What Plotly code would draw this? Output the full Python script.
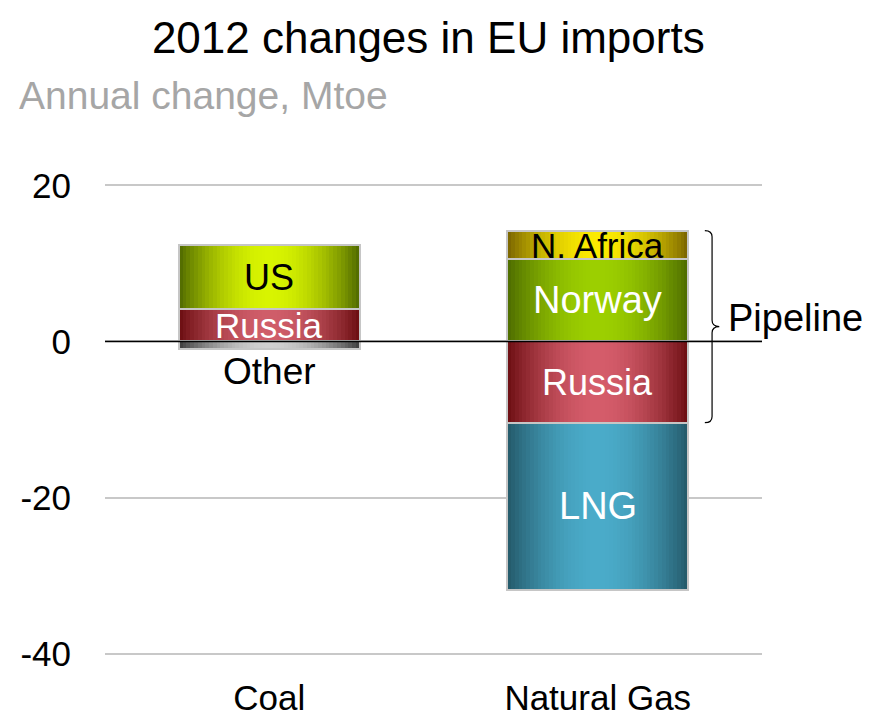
import numpy as np
import plotly.graph_objects as go

# ---- data (Mtoe, annual change 2012) ----
categories = ["Coal", "Natural Gas"]
segment_names = ["Russia", "US", "Other", "Norway", "N. Africa", "Russia", "LNG"]
segment_category = ["Coal", "Coal", "Coal", "Natural Gas", "Natural Gas", "Natural Gas", "Natural Gas"]
segment_values = [4.1, 8.3, -1.0, 10.5, 3.7, -10.4, -21.4]
y_ticks = [-40, -20, 0, 20]
y_tick_text = ["-40", "-20", "0", "20"]

# ---- styling ----
edge_colors = ["#6a0c10", "#4e6800", "#3c3c3c", "#4c6a00", "#786200", "#6a0c10", "#235868"]
center_colors = ["#cf5d69", "#d8f400", "#d0d0d0", "#9ccf00", "#fbea00", "#d45c6a", "#4aabc9"]
label_colors = ["white", "black", "black", "white", "black", "white", "white"]
label_sizes = [35, 36, 37, 38, 35, 36, 38]
BAR_W = 0.55
N_STRIPS = 48
FONT = "Liberation Sans, Arial, sans-serif"


def hex_rgb(h):
    h = h.lstrip("#")
    return np.array([int(h[i:i + 2], 16) for i in (0, 2, 4)], dtype=float)


def mix(c_edge, c_mid, f):
    c = hex_rgb(c_edge) * (1 - f) + hex_rgb(c_mid) * f
    return "rgb(%d,%d,%d)" % tuple(np.round(c).astype(int))


# stacked bases: positives build upward, negatives downward, per category
bases = []
pos_top = {c: 0.0 for c in categories}
neg_top = {c: 0.0 for c in categories}
for cat, v in zip(segment_category, segment_values):
    if v >= 0:
        bases.append(pos_top[cat])
        pos_top[cat] += v
    else:
        bases.append(neg_top[cat])
        neg_top[cat] += v

fig = go.Figure()

# cylinder-style shading: each segment is built from thin vertical strips
strip_w = BAR_W / N_STRIPS
for i in range(N_STRIPS):
    t = (i + 0.5) / N_STRIPS * 2 - 1
    f = np.cos(t * np.pi / 2) ** 0.9
    fig.add_trace(go.Bar(
        x=segment_category,
        y=segment_values,
        base=bases,
        width=[strip_w * 1.15] * len(segment_values),
        offset=[-BAR_W / 2 + i * strip_w] * len(segment_values),
        marker=dict(color=[mix(e, c, f) for e, c in zip(edge_colors, center_colors)],
                    line=dict(width=0)),
        showlegend=False,
        hoverinfo="skip",
    ))

# light grey outline around every segment
fig.add_trace(go.Bar(
    x=segment_category,
    y=segment_values,
    base=bases,
    width=[BAR_W] * len(segment_values),
    marker=dict(color="rgba(0,0,0,0)", line=dict(color="#c6c6c6", width=2)),
    showlegend=False,
    hoverinfo="skip",
))

# segment labels
for name, cat, v, b, col, sz in zip(segment_names, segment_category, segment_values,
                                    bases, label_colors, label_sizes):
    if name == "Other":
        fig.add_annotation(x=cat, y=b + v, text=name, showarrow=False, yanchor="top",
                           yshift=0, font=dict(family=FONT, size=sz, color=col))
    else:
        fig.add_annotation(x=cat, y=b + v / 2, text=name, showarrow=False,
                           font=dict(family=FONT, size=sz, color=col))

# brace grouping the pipeline supplies
gas_top = pos_top["Natural Gas"]
pipe_bottom = [b + v for n, c, v, b in zip(segment_names, segment_category, segment_values, bases)
               if c == "Natural Gas" and n == "Russia"][0]
mid = (gas_top + pipe_bottom) / 2
x0, x1, x2 = 0.913, 0.924, 0.935
dy = 0.8
path = (f"M {x0},{gas_top} Q {x1},{gas_top} {x1},{gas_top - dy} "
        f"L {x1},{mid + dy} Q {x1},{mid} {x2},{mid} "
        f"Q {x1},{mid} {x1},{mid - dy} "
        f"L {x1},{pipe_bottom + dy} Q {x1},{pipe_bottom} {x0},{pipe_bottom}")
fig.add_shape(type="path", path=path, xref="paper", yref="y",
              line=dict(color="black", width=1.2))
fig.add_annotation(x=x2 + 0.01, xref="paper", y=mid, yref="y", text="Pipeline",
                   showarrow=False, xanchor="left", yshift=9,
                   font=dict(family=FONT, size=38, color="black"))

# zero line drawn above the bars
fig.add_shape(type="line", xref="paper", yref="y", x0=0, x1=1, y0=0, y1=0,
              line=dict(color="black", width=1.5), layer="above")

fig.update_layout(
    width=874, height=721,
    margin=dict(l=105, r=112, t=183, b=65),
    paper_bgcolor="white", plot_bgcolor="white",
    barmode="overlay",
    bargap=0,
    title=dict(text="2012 changes in EU imports", x=0.49, xanchor="center",
               y=0.948, yanchor="middle",
               font=dict(family=FONT, size=44, color="black")),
    xaxis=dict(type="category", categoryorder="array", categoryarray=categories,
               range=[-0.5, 1.5], showgrid=False, showline=False, ticks="",
               automargin=False,
               tickfont=dict(family=FONT, size=35, color="black"), ticklabelstandoff=18),
    yaxis=dict(range=[-40.3, 20.3], tickvals=y_ticks, ticktext=y_tick_text,
               showgrid=True, gridcolor="#c8c8c8",
               gridwidth=2, zeroline=False, showline=False, ticks="",
               automargin=False,
               ticklabelstandoff=33,
               tickfont=dict(family=FONT, size=35, color="black")),
)

fig.add_annotation(text="Annual change, Mtoe", xref="paper", yref="paper",
                   x=-0.134, y=1.184, xanchor="left", yanchor="middle", showarrow=False,
                   font=dict(family=FONT, size=39, color="#a6a6a6"))

fig.write_html("out.html")
